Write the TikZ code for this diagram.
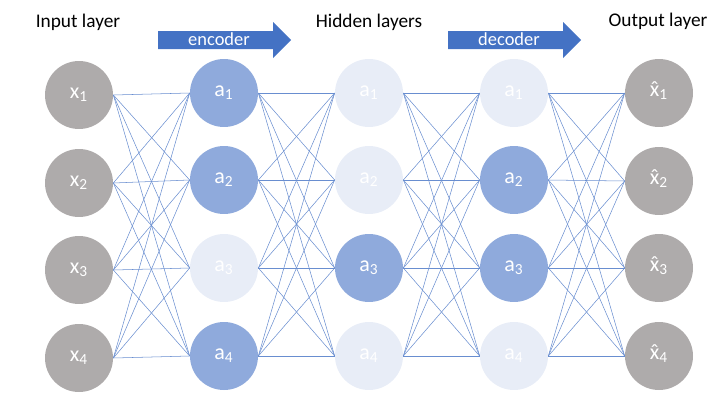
\documentclass[tikz,border=0pt]{standalone}
\usepackage{fontspec}
\setmainfont{Carlito}
\usetikzlibrary{positioning}

\definecolor{iogray}{HTML}{AEABAB}
\definecolor{hidon}{HTML}{8FAADC}
\definecolor{hidoff}{HTML}{E8EDF7}
\definecolor{linkblue}{HTML}{4472C4}

% x with a circumflex on top
\newcommand{\xhat}{\ooalign{x\cr\hidewidth\char"02C6\hidewidth\cr}}

\begin{document}
\begin{tikzpicture}[x=0.02cm, y=-0.02cm,
    unit/.style={circle, minimum size=1.36cm, inner sep=0pt, text=white, font=\fontsize{12.5}{14}\selectfont},
    link/.style={linkblue!80, line width=0.3pt},
    title/.style={anchor=base, font=\fontsize{11}{13}\selectfont},
    flowtext/.style={anchor=base, text=white, font=\fontsize{10.5}{12}\selectfont}]
    \useasboundingbox (0,0) rectangle (712,399);

    % Layer titles
    \node[title] (intitle) at (78,27) {Input layer};
    \node[title] (hidtitle) at (369,27) {Hidden layers};
    \node[title] (outtitle) at (658,26) {Output layer};

    % Encoder / decoder arrows
    \foreach \x/\nm/\txt in {158/enc/encoder, 448/dec/decoder} {
        \fill[linkblue] (\x,31) -- ++(115,0) -- ++(0,-9) -- ++(18,18) -- ++(-18,18) -- ++(0,-9) -- ++(-115,0) -- cycle;
        \node[flowtext] (\nm) at (\x+61,45) {\txt};
    }

    % Input and output units
    \foreach \r/\y in {1/95, 2/183, 3/270, 4/358} {
        \node[unit, fill=iogray] (x\r) at (79,\y) {x\textsubscript{\r}};
        \node[unit, fill=iogray] (y\r) at (659,\y-2) {\xhat\textsubscript{\r}};
    }

    % Hidden units, active ones darker
    \foreach \r/\y/\c in {1/93/hidon, 2/180/hidon, 3/268/hidoff, 4/356/hidon}
        \node[unit, fill=\c] (h1\r) at (224,\y) {a\textsubscript{\r}};
    \foreach \r/\y/\c in {1/93/hidoff, 2/180/hidoff, 3/268/hidon, 4/356/hidoff}
        \node[unit, fill=\c] (h2\r) at (369,\y) {a\textsubscript{\r}};
    \foreach \r/\y/\c in {1/93/hidoff, 2/180/hidon, 3/268/hidon, 4/356/hidoff}
        \node[unit, fill=\c] (h3\r) at (514,\y) {a\textsubscript{\r}};

    % Fully connected links between neighbouring layers
    \foreach \a/\b in {x/h1, h1/h2, h2/h3, h3/y}
        \foreach \i in {1,...,4}
            \foreach \j in {1,...,4}
                \draw[link] (\a\i.east) -- (\b\j.west);
\end{tikzpicture}
\end{document}
